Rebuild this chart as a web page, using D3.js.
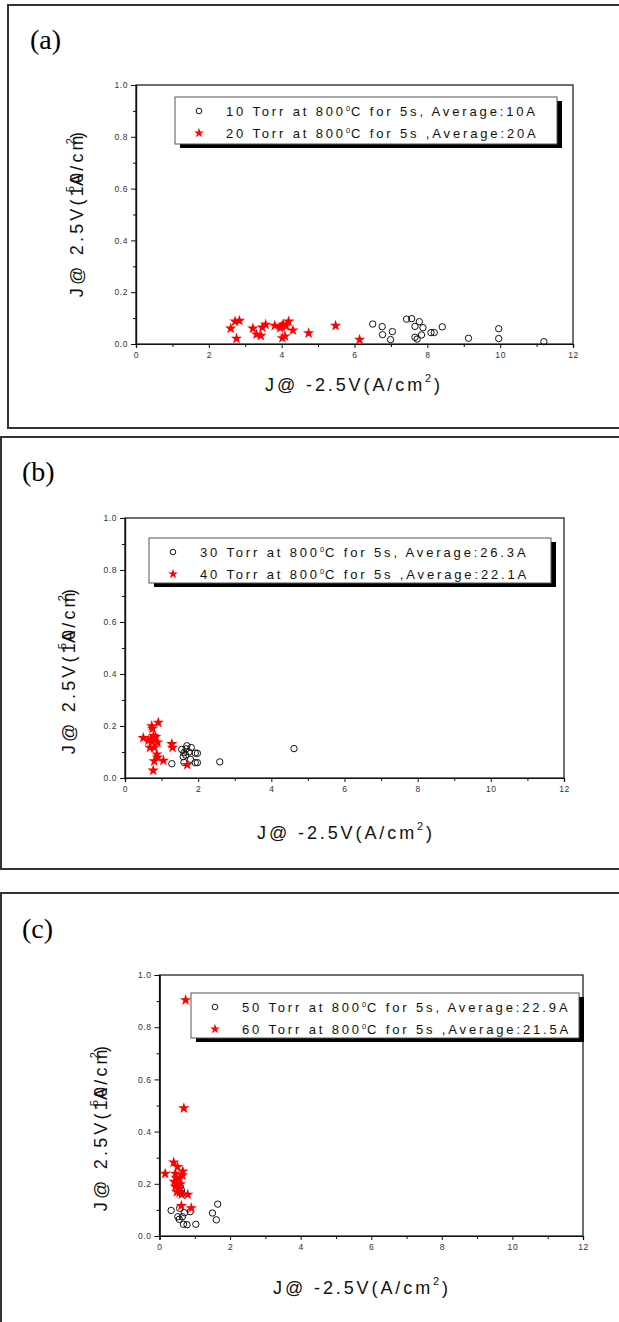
<!DOCTYPE html>
<html>
<head>
<meta charset="utf-8">
<script src="https://cdn.jsdelivr.net/npm/d3@7"></script>
<style>
  body { margin: 0; background: #fff; }
  svg { display: block; }
</style>
</head>
<body>
<div class="canvas"></div>
<script>
// ---- data: [J@-2.5V, J@2.5V] ----
const torr10 = [[6.50,0.077],[6.76,0.067],[6.77,0.036],[7.04,0.048],[6.99,0.017],[7.43,0.096],[7.57,0.098],
  [7.78,0.086],[7.66,0.068],[7.88,0.063],[7.84,0.035],[7.66,0.026],[7.72,0.019],[8.10,0.044],[8.19,0.044],
  [8.41,0.066],[9.13,0.022],[9.96,0.059],[9.96,0.021],[11.2,0.009]];
const torr20 = [[2.60,0.060],[2.72,0.087],[2.84,0.090],[2.76,0.021],[3.21,0.060],[3.31,0.037],[3.43,0.032],
  [3.47,0.064],[3.56,0.075],[3.81,0.071],[3.96,0.062],[4.00,0.068],[4.04,0.076],[4.12,0.069],[4.19,0.087],
  [4.31,0.053],[4.02,0.023],[4.09,0.030],[4.74,0.042],[5.48,0.071],[6.14,0.017]];
const torr30 = [[1.28,0.055],[1.55,0.110],[1.69,0.124],[1.81,0.117],[1.61,0.097],[1.75,0.100],[1.59,0.082],
  [1.79,0.072],[1.61,0.060],[1.92,0.096],[1.98,0.095],[1.92,0.059],[1.98,0.059],[1.67,0.112],[1.66,0.088],
  [2.59,0.062],[4.62,0.113]];
const torr40 = [[0.50,0.154],[0.73,0.200],[0.75,0.190],[0.91,0.213],[0.70,0.149],[0.78,0.162],[0.84,0.158],
  [0.89,0.137],[0.73,0.140],[0.68,0.117],[0.80,0.117],[0.87,0.091],[0.89,0.079],[0.80,0.065],[1.05,0.067],
  [0.77,0.029],[1.28,0.131],[1.30,0.117],[1.70,0.051],[0.64,0.144]];
const torr50 = [[0.33,0.098],[0.57,0.106],[0.71,0.089],[0.87,0.093],[0.52,0.074],[0.65,0.074],[0.56,0.064],
  [0.68,0.045],[0.78,0.043],[1.03,0.045],[1.50,0.088],[1.61,0.062],[1.65,0.122],[0.62,0.176],[0.59,0.189],
  [0.64,0.163]];
const torr60 = [[0.74,0.904],[0.69,0.490],[0.16,0.239],[0.40,0.282],[0.51,0.265],[0.66,0.248],[0.65,0.233],
  [0.45,0.239],[0.47,0.224],[0.42,0.208],[0.57,0.220],[0.49,0.199],[0.45,0.189],[0.59,0.199],[0.54,0.182],
  [0.57,0.166],[0.63,0.159],[0.80,0.159],[0.62,0.116],[0.90,0.107],[0.49,0.169]];

const panelTags = ['(a)', '(b)', '(c)'];
const circleNames = ['10 Torr at 800|C for 5s, Average:10A', '30 Torr at 800|C for 5s, Average:26.3A', '50 Torr at 800|C for 5s, Average:22.9A'];
const starNames = ['20 Torr at 800|C for 5s ,Average:20A', '40 Torr at 800|C for 5s ,Average:22.1A', '60 Torr at 800|C for 5s ,Average:21.5A'];
const xTicks = [0, 2, 4, 6, 8, 10, 12];
const yTicks = [0, 0.2, 0.4, 0.6, 0.8, 1.0];

// ---- layout of the three panels (pixels) ----
const panels = [
  { circ: torr10, star: torr20, frame: [8, 5, 640, 423], plot: [136, 573, 85, 344],
    legend: [175, 97, 382, 47], tag: [30, 49], ylab: [77, 213], xlab: [354, 385] },
  { circ: torr30, star: torr40, frame: [1, 437, 650, 432], plot: [125, 564, 518, 778],
    legend: [149, 538, 402, 45], tag: [22, 481], ylab: [69, 670], xlab: [346, 833] },
  { circ: torr50, star: torr60, frame: [1, 893, 650, 500], plot: [159.5, 583, 975, 1236],
    legend: [191, 993, 388, 45], tag: [22, 938], ylab: [101, 1127], xlab: [362, 1288] }
];

const svg = d3.select('.canvas')
  .append('svg')
  .attr('width', 619)
  .attr('height', 1322);

const star = d3.symbol().type(d3.symbolStar).size(40);
const starSmall = d3.symbol().type(d3.symbolStar).size(30);

// text with a "|" marking a superscript 0 (degree)
const degText = (sel, str) => {
  const parts = str.split('|');
  sel.append('tspan').text(parts[0]);
  sel.append('tspan').attr('dy', -5).attr('font-size', 7.5).attr('letter-spacing', 0).text('0');
  sel.append('tspan').attr('dy', 5).attr('dx', 1).text(parts[1]);
};

panels.forEach((p, i) => {
  const g = svg.append('g');
  const [fx, fy, fw, fh] = p.frame;
  g.append('rect')
    .attr('x', fx).attr('y', fy).attr('width', fw).attr('height', fh)
    .attr('fill', 'none').attr('stroke', '#333').attr('stroke-width', 2);

  g.append('text')
    .attr('x', p.tag[0]).attr('y', p.tag[1])
    .attr('font-family', 'Liberation Serif, Times New Roman, serif')
    .attr('font-size', 28)
    .text(panelTags[i]);

  const [l, r, t, b] = p.plot;
  const x = d3.scaleLinear().domain([0, 12]).range([l, r]);
  const y = d3.scaleLinear().domain([0, 1]).range([b, t]);

  // plot box
  g.append('rect')
    .attr('x', l).attr('y', t).attr('width', r - l).attr('height', b - t)
    .attr('fill', 'none').attr('stroke', '#111').attr('stroke-width', 1.2);

  // axes
  const xAxisGroup = g.append('g').attr('transform', `translate(0,${b})`);
  xAxisGroup.call(d3.axisBottom(x).tickValues(d3.range(1, 12, 2)).tickSize(3).tickFormat(''));
  xAxisGroup.append('g').call(d3.axisBottom(x).tickValues(xTicks).tickSize(4).tickPadding(4).tickFormat(d3.format('d')));

  const yAxisGroup = g.append('g').attr('transform', `translate(${l},0)`);
  yAxisGroup.call(d3.axisLeft(y).tickValues(d3.range(0.1, 1, 0.2)).tickSize(3).tickFormat(''));
  yAxisGroup.append('g').call(d3.axisLeft(y).tickValues(yTicks).tickSize(5).tickPadding(3).tickFormat(d3.format('.1f')));

  g.selectAll('.domain').attr('stroke', '#111').attr('stroke-width', 1.2);
  g.selectAll('.tick line').attr('stroke', '#111');
  g.selectAll('.tick text')
    .attr('font-family', 'Liberation Sans, Arial, sans-serif')
    .attr('font-size', 8.5)
    .attr('letter-spacing', 0.6)
    .attr('fill', '#333');

  // points
  g.append('g').selectAll('circle').data(p.circ).enter()
    .append('circle')
    .attr('cx', d => x(d[0]))
    .attr('cy', d => y(d[1]))
    .attr('r', 3.2)
    .attr('fill', 'none')
    .attr('stroke', '#111')
    .attr('stroke-width', 1);

  g.append('g').selectAll('path').data(p.star).enter()
    .append('path')
    .attr('d', star)
    .attr('transform', d => `translate(${x(d[0])},${y(d[1])})`)
    .attr('fill', '#ff0000');

  // legend
  const [lx, ly, lw, lh] = p.legend;
  g.append('rect')
    .attr('x', lx + 5).attr('y', ly + 4).attr('width', lw).attr('height', lh)
    .attr('fill', '#000');
  g.append('rect')
    .attr('x', lx).attr('y', ly).attr('width', lw).attr('height', lh)
    .attr('fill', '#fff').attr('stroke', '#555').attr('stroke-width', 1);

  g.append('circle')
    .attr('cx', lx + 24).attr('cy', ly + 14).attr('r', 2.8)
    .attr('fill', 'none').attr('stroke', '#111').attr('stroke-width', 1);
  g.append('path')
    .attr('d', starSmall)
    .attr('transform', `translate(${lx + 24},${ly + 36})`)
    .attr('fill', '#ff0000');

  [circleNames[i], starNames[i]].forEach((name, k) => {
    g.append('text')
      .attr('x', lx + 51).attr('y', ly + 18.5 + k * 22)
      .attr('font-family', 'Liberation Sans, Arial, sans-serif')
      .attr('font-size', 13)
      .attr('letter-spacing', 2.85)
      .attr('fill', '#111')
      .call(degText, name);
  });

  // axis titles
  const xl = g.append('text')
    .attr('x', p.xlab[0]).attr('y', p.xlab[1] + 6)
    .attr('text-anchor', 'middle')
    .attr('font-family', 'Liberation Sans, Arial, sans-serif')
    .attr('font-size', 18)
    .attr('letter-spacing', 2.9)
    .attr('fill', '#111');
  xl.append('tspan').text('J@ -2.5V(A/cm');
  xl.append('tspan').attr('dy', -9).attr('font-size', 11).text('2');
  xl.append('tspan').attr('dy', 9).text(')');

  const yl = g.append('text')
    .attr('transform', `translate(${p.ylab[0] + 6},${p.ylab[1]}) rotate(-90)`)
    .attr('text-anchor', 'middle')
    .attr('font-family', 'Liberation Sans, Arial, sans-serif')
    .attr('font-size', 18)
    .attr('letter-spacing', 3.2)
    .attr('fill', '#111');
  yl.append('tspan').text('J@ 2.5V(10');
  yl.append('tspan').attr('dx', -26).attr('dy', -9).attr('font-size', 11).attr('letter-spacing', 0).text('-5');
  yl.append('tspan').attr('dx', 0).attr('dy', 9).text('A/cm');
  yl.append('tspan').attr('dx', -12).attr('dy', -9).attr('font-size', 11).attr('letter-spacing', 0).text('2');
  yl.append('tspan').attr('dy', 9).text(')');
});
</script>
</body>
</html>
